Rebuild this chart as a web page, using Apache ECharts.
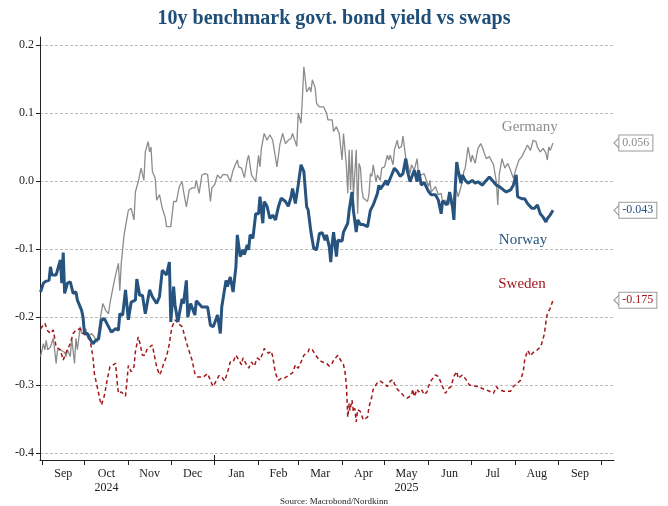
<!DOCTYPE html>
<html>
<head>
<meta charset="utf-8">
<script src="https://cdn.jsdelivr.net/npm/echarts@6/dist/echarts.min.js"></script>
<style>html,body{margin:0;padding:0;background:#fff}#c{width:668px;height:506px}</style>
</head>
<body>
<div id="c"></div>
<script>
// ---- data: [days since 2024-09-01, value] ----
const germany = [[-1,-0.258],[1,-0.239],[2,-0.248],[3,-0.234],[4,-0.248],[6,-0.244],[7,-0.237],[8,-0.231],[10,-0.268],[11,-0.248],[13,-0.248],[16,-0.252],[17,-0.258],[18,-0.248],[20,-0.258],[21,-0.231],[22,-0.229],[23,-0.268],[24,-0.231],[25,-0.248],[27,-0.214],[28,-0.224],[30,-0.224],[31,-0.217],[32,-0.229],[35,-0.224],[37,-0.229],[39,-0.237],[41,-0.204],[43,-0.180],[45,-0.190],[47,-0.195],[48,-0.180],[49,-0.180],[50,-0.158],[52,-0.138],[54,-0.121],[55,-0.161],[56,-0.121],[58,-0.079],[59,-0.079],[61,-0.043],[63,-0.040],[65,-0.057],[66,-0.016],[68,-0.001],[70,0.019],[72,0.001],[73,0.043],[75,0.058],[76,0.043],[77,0.050],[78,0.014],[80,0.004],[81,-0.028],[83,-0.020],[85,-0.040],[87,-0.053],[88,-0.067],[91,-0.067],[92,-0.068],[93,-0.030],[95,-0.030],[97,-0.008],[99,-0.001],[100,-0.015],[102,-0.038],[104,-0.013],[106,-0.010],[108,-0.010],[109,0.001],[111,-0.018],[113,0.009],[115,0.011],[117,0.010],[119,-0.030],[120,-0.010],[122,-0.005],[124,0.009],[126,0.004],[128,0.010],[131,0.009],[133,-0.001],[135,0.016],[136,0.021],[138,0.031],[139,0.021],[141,0.019],[143,0.005],[145,0.031],[146,0.038],[148,0.009],[149,0.010],[151,-0.001],[153,0.038],[154,0.021],[155,0.048],[157,0.070],[159,0.060],[161,0.068],[163,0.060],[166,0.021],[168,0.053],[170,0.070],[172,0.055],[174,0.060],[176,0.063],[177,0.070],[180,0.051],[181,0.100],[183,0.085],[184,0.124],[185,0.168],[187,0.131],[189,0.138],[190,0.131],[191,0.149],[193,0.137],[194,0.114],[196,0.109],[199,0.109],[201,0.100],[202,0.090],[205,0.090],[206,0.073],[208,0.080],[210,0.070],[212,0.031],[213,0.070],[215,0.024],[216,-0.018],[217,0.046],[218,-0.013],[219,0.046],[220,-0.023],[222,0.046],[223,-0.048],[224,0.026],[225,0.019],[226,-0.013],[227,-0.025],[230,-0.030],[231,-0.020],[232,0.011],[233,0.007],[234,0.024],[236,-0.001],[237,0.009],[239,0.001],[240,0.019],[242,0.021],[244,0.038],[245,0.031],[246,0.038],[248,0.024],[249,0.046],[251,0.060],[252,0.048],[254,0.051],[255,0.066],[257,0.034],[258,0.029],[260,0.011],[261,0.024],[263,0.016],[265,0.033],[266,0.011],[268,0.009],[270,0.011],[273,-0.008],[274,0.001],[275,-0.016],[278,-0.008],[280,-0.020],[282,-0.018],[283,-0.030],[285,-0.028],[287,-0.035],[289,-0.028],[290,-0.035],[292,-0.008],[294,-0.023],[297,-0.001],[298,0.014],[299,0.019],[301,0.050],[303,0.028],[304,0.038],[306,0.026],[308,0.048],[310,0.055],[311,0.050],[313,0.038],[314,0.033],[316,0.036],[318,0.028],[319,0.024],[321,-0.001],[322,-0.035],[323,0.009],[325,0.033],[327,0.019],[329,0.026],[331,0.016],[332,0.016],[333,0.004],[335,0.019],[337,0.031],[339,0.036],[340,0.038],[343,0.053],[344,0.055],[345,0.045],[347,0.060],[349,0.058],[350,0.050],[352,0.043],[354,0.048],[356,0.041],[357,0.031],[358,0.050],[359,0.045],[361,0.056]];

const norway = [[-1,-0.163],[1,-0.150],[3,-0.147],[5,-0.146],[6,-0.126],[7,-0.138],[10,-0.138],[13,-0.116],[14,-0.150],[15,-0.105],[16,-0.165],[18,-0.150],[20,-0.148],[22,-0.165],[24,-0.163],[25,-0.175],[28,-0.190],[29,-0.200],[30,-0.224],[32,-0.224],[35,-0.236],[36,-0.239],[38,-0.234],[40,-0.232],[42,-0.204],[44,-0.202],[47,-0.214],[49,-0.222],[52,-0.217],[54,-0.219],[55,-0.195],[57,-0.197],[59,-0.160],[61,-0.204],[63,-0.178],[66,-0.175],[67,-0.144],[69,-0.168],[71,-0.168],[73,-0.195],[76,-0.160],[78,-0.170],[81,-0.180],[83,-0.170],[85,-0.131],[88,-0.138],[90,-0.119],[91,-0.207],[93,-0.155],[94,-0.182],[96,-0.207],[99,-0.173],[100,-0.180],[102,-0.146],[103,-0.200],[105,-0.180],[108,-0.197],[109,-0.176],[113,-0.185],[117,-0.185],[119,-0.212],[121,-0.214],[124,-0.197],[126,-0.224],[127,-0.185],[130,-0.146],[131,-0.155],[133,-0.141],[135,-0.163],[137,-0.126],[138,-0.079],[140,-0.111],[142,-0.101],[143,-0.108],[145,-0.094],[146,-0.101],[147,-0.079],[149,-0.084],[151,-0.048],[153,-0.048],[154,-0.023],[156,-0.062],[157,-0.030],[159,-0.037],[161,-0.055],[163,-0.050],[165,-0.057],[167,-0.038],[169,-0.025],[172,-0.030],[174,-0.037],[176,-0.023],[177,-0.011],[179,-0.033],[181,-0.006],[183,0.024],[185,0.014],[187,-0.038],[188,-0.042],[190,-0.075],[192,-0.099],[194,-0.101],[196,-0.077],[198,-0.076],[200,-0.087],[201,-0.079],[203,-0.097],[204,-0.119],[205,-0.092],[206,-0.075],[208,-0.111],[209,-0.087],[212,-0.088],[213,-0.075],[216,-0.062],[217,-0.043],[219,-0.016],[220,-0.043],[222,-0.075],[223,-0.057],[225,-0.064],[227,-0.064],[230,-0.067],[232,-0.043],[234,-0.035],[237,-0.018],[238,-0.006],[239,-0.012],[241,-0.006],[243,0.001],[244,-0.006],[247,0.009],[249,0.019],[251,0.014],[253,0.007],[255,0.011],[257,0.033],[258,0.016],[260,-0.001],[261,0.001],[263,0.016],[265,-0.001],[266,0.016],[268,-0.006],[270,-0.002],[273,-0.015],[275,-0.020],[278,-0.020],[280,-0.028],[282,-0.048],[283,-0.029],[286,-0.035],[287,-0.028],[288,-0.016],[290,-0.038],[291,-0.057],[292,-0.008],[293,0.028],[294,0.016],[296,-0.003],[297,0.009],[299,0.001],[301,-0.003],[304,0.001],[306,-0.003],[308,-0.001],[311,-0.006],[313,-0.001],[316,0.006],[319,-0.001],[321,-0.006],[323,-0.008],[326,-0.013],[328,-0.016],[331,-0.013],[333,-0.006],[335,0.009],[336,-0.023],[339,-0.026],[341,-0.026],[343,-0.033],[346,-0.040],[348,-0.040],[350,-0.035],[352,-0.048],[354,-0.053],[356,-0.060],[357,-0.055],[359,-0.050],[361,-0.043]];

const sweden = [[-1,-0.217],[2,-0.209],[4,-0.220],[6,-0.224],[8,-0.219],[10,-0.244],[13,-0.248],[15,-0.263],[17,-0.252],[20,-0.239],[22,-0.224],[24,-0.219],[27,-0.217],[29,-0.224],[31,-0.227],[34,-0.234],[36,-0.258],[37,-0.283],[39,-0.302],[41,-0.322],[42,-0.329],[44,-0.316],[46,-0.293],[48,-0.273],[49,-0.273],[52,-0.268],[53,-0.293],[54,-0.312],[56,-0.310],[59,-0.316],[60,-0.295],[61,-0.271],[63,-0.280],[65,-0.273],[66,-0.251],[68,-0.229],[69,-0.237],[71,-0.256],[73,-0.256],[74,-0.248],[76,-0.244],[78,-0.241],[79,-0.252],[81,-0.273],[83,-0.285],[84,-0.281],[86,-0.268],[88,-0.258],[90,-0.239],[91,-0.224],[92,-0.214],[94,-0.204],[96,-0.209],[99,-0.214],[101,-0.229],[103,-0.244],[106,-0.263],[108,-0.283],[110,-0.288],[114,-0.288],[117,-0.283],[120,-0.298],[121,-0.302],[124,-0.290],[125,-0.286],[127,-0.288],[129,-0.294],[131,-0.282],[133,-0.266],[135,-0.266],[137,-0.256],[138,-0.258],[141,-0.270],[142,-0.260],[145,-0.272],[146,-0.275],[148,-0.266],[150,-0.272],[152,-0.260],[154,-0.263],[156,-0.253],[157,-0.246],[160,-0.253],[162,-0.250],[163,-0.258],[165,-0.283],[167,-0.293],[169,-0.290],[171,-0.290],[174,-0.286],[177,-0.282],[179,-0.270],[181,-0.275],[183,-0.266],[185,-0.256],[188,-0.251],[189,-0.246],[191,-0.248],[194,-0.258],[196,-0.263],[198,-0.266],[201,-0.268],[203,-0.272],[205,-0.268],[206,-0.263],[209,-0.256],[210,-0.260],[213,-0.270],[214,-0.280],[215,-0.298],[215.5,-0.322],[216,-0.347],[217,-0.327],[217.5,-0.337],[219,-0.322],[220,-0.339],[221,-0.334],[222,-0.354],[223,-0.336],[225,-0.339],[226,-0.337],[227,-0.351],[230,-0.347],[231,-0.332],[233,-0.317],[234,-0.306],[237,-0.296],[239,-0.294],[242,-0.298],[244,-0.302],[246,-0.294],[248,-0.292],[249,-0.298],[251,-0.306],[254,-0.312],[256,-0.317],[258,-0.319],[261,-0.315],[262,-0.306],[263,-0.317],[265,-0.306],[266,-0.310],[268,-0.306],[270,-0.314],[272,-0.310],[273,-0.302],[275,-0.293],[278,-0.285],[280,-0.287],[282,-0.297],[285,-0.312],[287,-0.305],[289,-0.302],[291,-0.287],[293,-0.280],[294,-0.290],[297,-0.285],[298,-0.287],[300,-0.293],[302,-0.300],[304,-0.300],[307,-0.302],[309,-0.302],[311,-0.305],[314,-0.307],[316,-0.309],[319,-0.312],[321,-0.302],[322,-0.305],[324,-0.307],[326,-0.309],[329,-0.309],[331,-0.309],[333,-0.302],[336,-0.297],[338,-0.293],[340,-0.280],[341,-0.263],[343,-0.249],[344,-0.252],[345,-0.257],[347,-0.252],[350,-0.248],[352,-0.244],[353,-0.239],[355,-0.224],[356,-0.207],[357,-0.195],[359,-0.187],[361,-0.175]];

const lastValues = { germany: 0.056, norway: -0.043, sweden: -0.175 };
const monthLabels = ['Sep','Oct','Nov','Dec','Jan','Feb','Mar','Apr','May','Jun','Jul','Aug','Sep'];
const yearLabels  = ['','2024','','','','','','','2025','','','',''];
const yTicks = [-0.4,-0.3,-0.2,-0.1,0,0.1,0.2];

// ---- helpers ----
const BASE = new Date(2024, 8, 1).getTime();
const DAY = 864e5;
const t = d => BASE + d * DAY;
const toData = arr => arr.map(p => [t(p[0]), p[1]]);
const xMin = t(-1.4), xMax = t(404.1);
const monthStarts = [];
for (let i = 0; i <= 13; i++) monthStarts.push(new Date(2024, 8 + i, 1).getTime());
const monthMids = [];
for (let i = 0; i < monthLabels.length; i++) monthMids.push((monthStarts[i] + monthStarts[i + 1]) / 2);

const FONT = '"Liberation Serif", "DejaVu Serif", serif';
const C_GER = '#8c8c8c', C_NOR = '#27537f', C_SWE = '#a3171b';

function callout(val, color) {
  return {
    symbol: 'path://M0,5 L6,0 L6,10 Z',
    symbolSize: [6, 12],
    symbolOffset: [3, 0],
    silent: true,
    itemStyle: { color: '#fff', borderColor: '#9a9a9a', borderWidth: 1 },
    label: {
      show: true, position: 'right', distance: -1,
      formatter: val.toFixed(3),
      color: color, fontFamily: FONT, fontSize: 12,
      backgroundColor: '#fff', borderColor: '#9a9a9a', borderWidth: 1,
      padding: [2, 3, 1, 3]
    },
    data: [{ coord: [xMax, val] }]
  };
}
function nameMark(day, val, name, color) {
  return { coord: [t(day), val], symbolSize: 0,
    label: { show: true, position: 'inside', formatter: name, color: color, fontFamily: FONT, fontSize: 15 } };
}

const chart = echarts.init(document.getElementById('c'), null, { renderer: 'canvas' });
chart.setOption({
  animation: false,
  backgroundColor: '#fff',
  title: [
    { text: '10y benchmark govt. bond yield vs swaps', left: 'center', top: 9, padding: 0,
      textStyle: { fontFamily: FONT, fontWeight: 'bold', fontSize: 20, color: '#1f4e79' } },
    { text: 'Source: Macrobond/Nordkinn', left: 'center', top: 497, padding: 0,
      textStyle: { fontFamily: FONT, fontWeight: 'normal', fontSize: 9, color: '#222' } }
  ],
  grid: { left: 40, right: 54, top: 37, bottom: 46, containLabel: false },
  xAxis: [{
    type: 'value', min: xMin, max: xMax, scale: true,
    axisLine: { show: true, onZero: false, lineStyle: { color: '#222', width: 1 } },
    axisTick: { show: true, customValues: monthStarts, length: 5, lineStyle: { color: '#222' } },
    axisLabel: {
      show: true, customValues: monthMids, margin: 7, lineHeight: 14,
      fontFamily: FONT, fontSize: 12, color: '#222',
      formatter: (v, i) => {
        let idx = monthMids.indexOf(v);
        if (idx < 0) idx = i;
        return monthLabels[idx] + (yearLabels[idx] ? '\n' + yearLabels[idx] : '');
      }
    },
    splitLine: { show: false }
  }, {
    type: 'value', min: xMin, max: xMax, scale: true, position: 'bottom',
    axisLine: { show: false, onZero: false },
    axisTick: { show: true, inside: true, customValues: [new Date(2025, 0, 1).getTime()], length: 5, lineStyle: { color: '#222' } },
    axisLabel: { show: false }, splitLine: { show: false }
  }],
  yAxis: {
    type: 'value', min: -0.41, max: 0.2118,
    axisLine: { show: true, lineStyle: { color: '#222', width: 1 } },
    axisTick: { show: true, customValues: yTicks, length: 4, lineStyle: { color: '#222' } },
    axisLabel: { customValues: yTicks, formatter: v => (Math.abs(v) < 1e-9 ? 0 : v).toFixed(1),
      fontFamily: FONT, fontSize: 12, color: '#222', margin: 6 },
    splitLine: { show: true, lineStyle: { color: '#bdbdbd', type: [3, 2], width: 1 } }
  },
  series: [
    { name: 'Germany', type: 'line', data: toData(germany), showSymbol: false, z: 2,
      lineStyle: { color: C_GER, width: 1.3 }, itemStyle: { color: C_GER },
      markPoint: callout(lastValues.germany, C_GER) },
    { name: 'Sweden', type: 'line', data: toData(sweden), showSymbol: false, z: 2,
      lineStyle: { color: C_SWE, width: 1.5, type: [4, 3] }, itemStyle: { color: C_SWE },
      markPoint: callout(lastValues.sweden, C_SWE) },
    { name: 'Norway', type: 'line', data: toData(norway), showSymbol: false, z: 3,
      lineStyle: { color: C_NOR, width: 3 }, itemStyle: { color: C_NOR },
      markPoint: callout(lastValues.norway, C_NOR) },
    { name: 'labels', type: 'line', data: [], silent: true,
      markPoint: { symbol: 'circle', silent: true, data: [
        nameMark(344.6, 0.0794, 'Germany', C_GER),
        nameMark(339.8, -0.0868, 'Norway', C_NOR),
        nameMark(339.1, -0.151, 'Sweden', C_SWE)
      ] } }
  ]
});
</script>
</body>
</html>
